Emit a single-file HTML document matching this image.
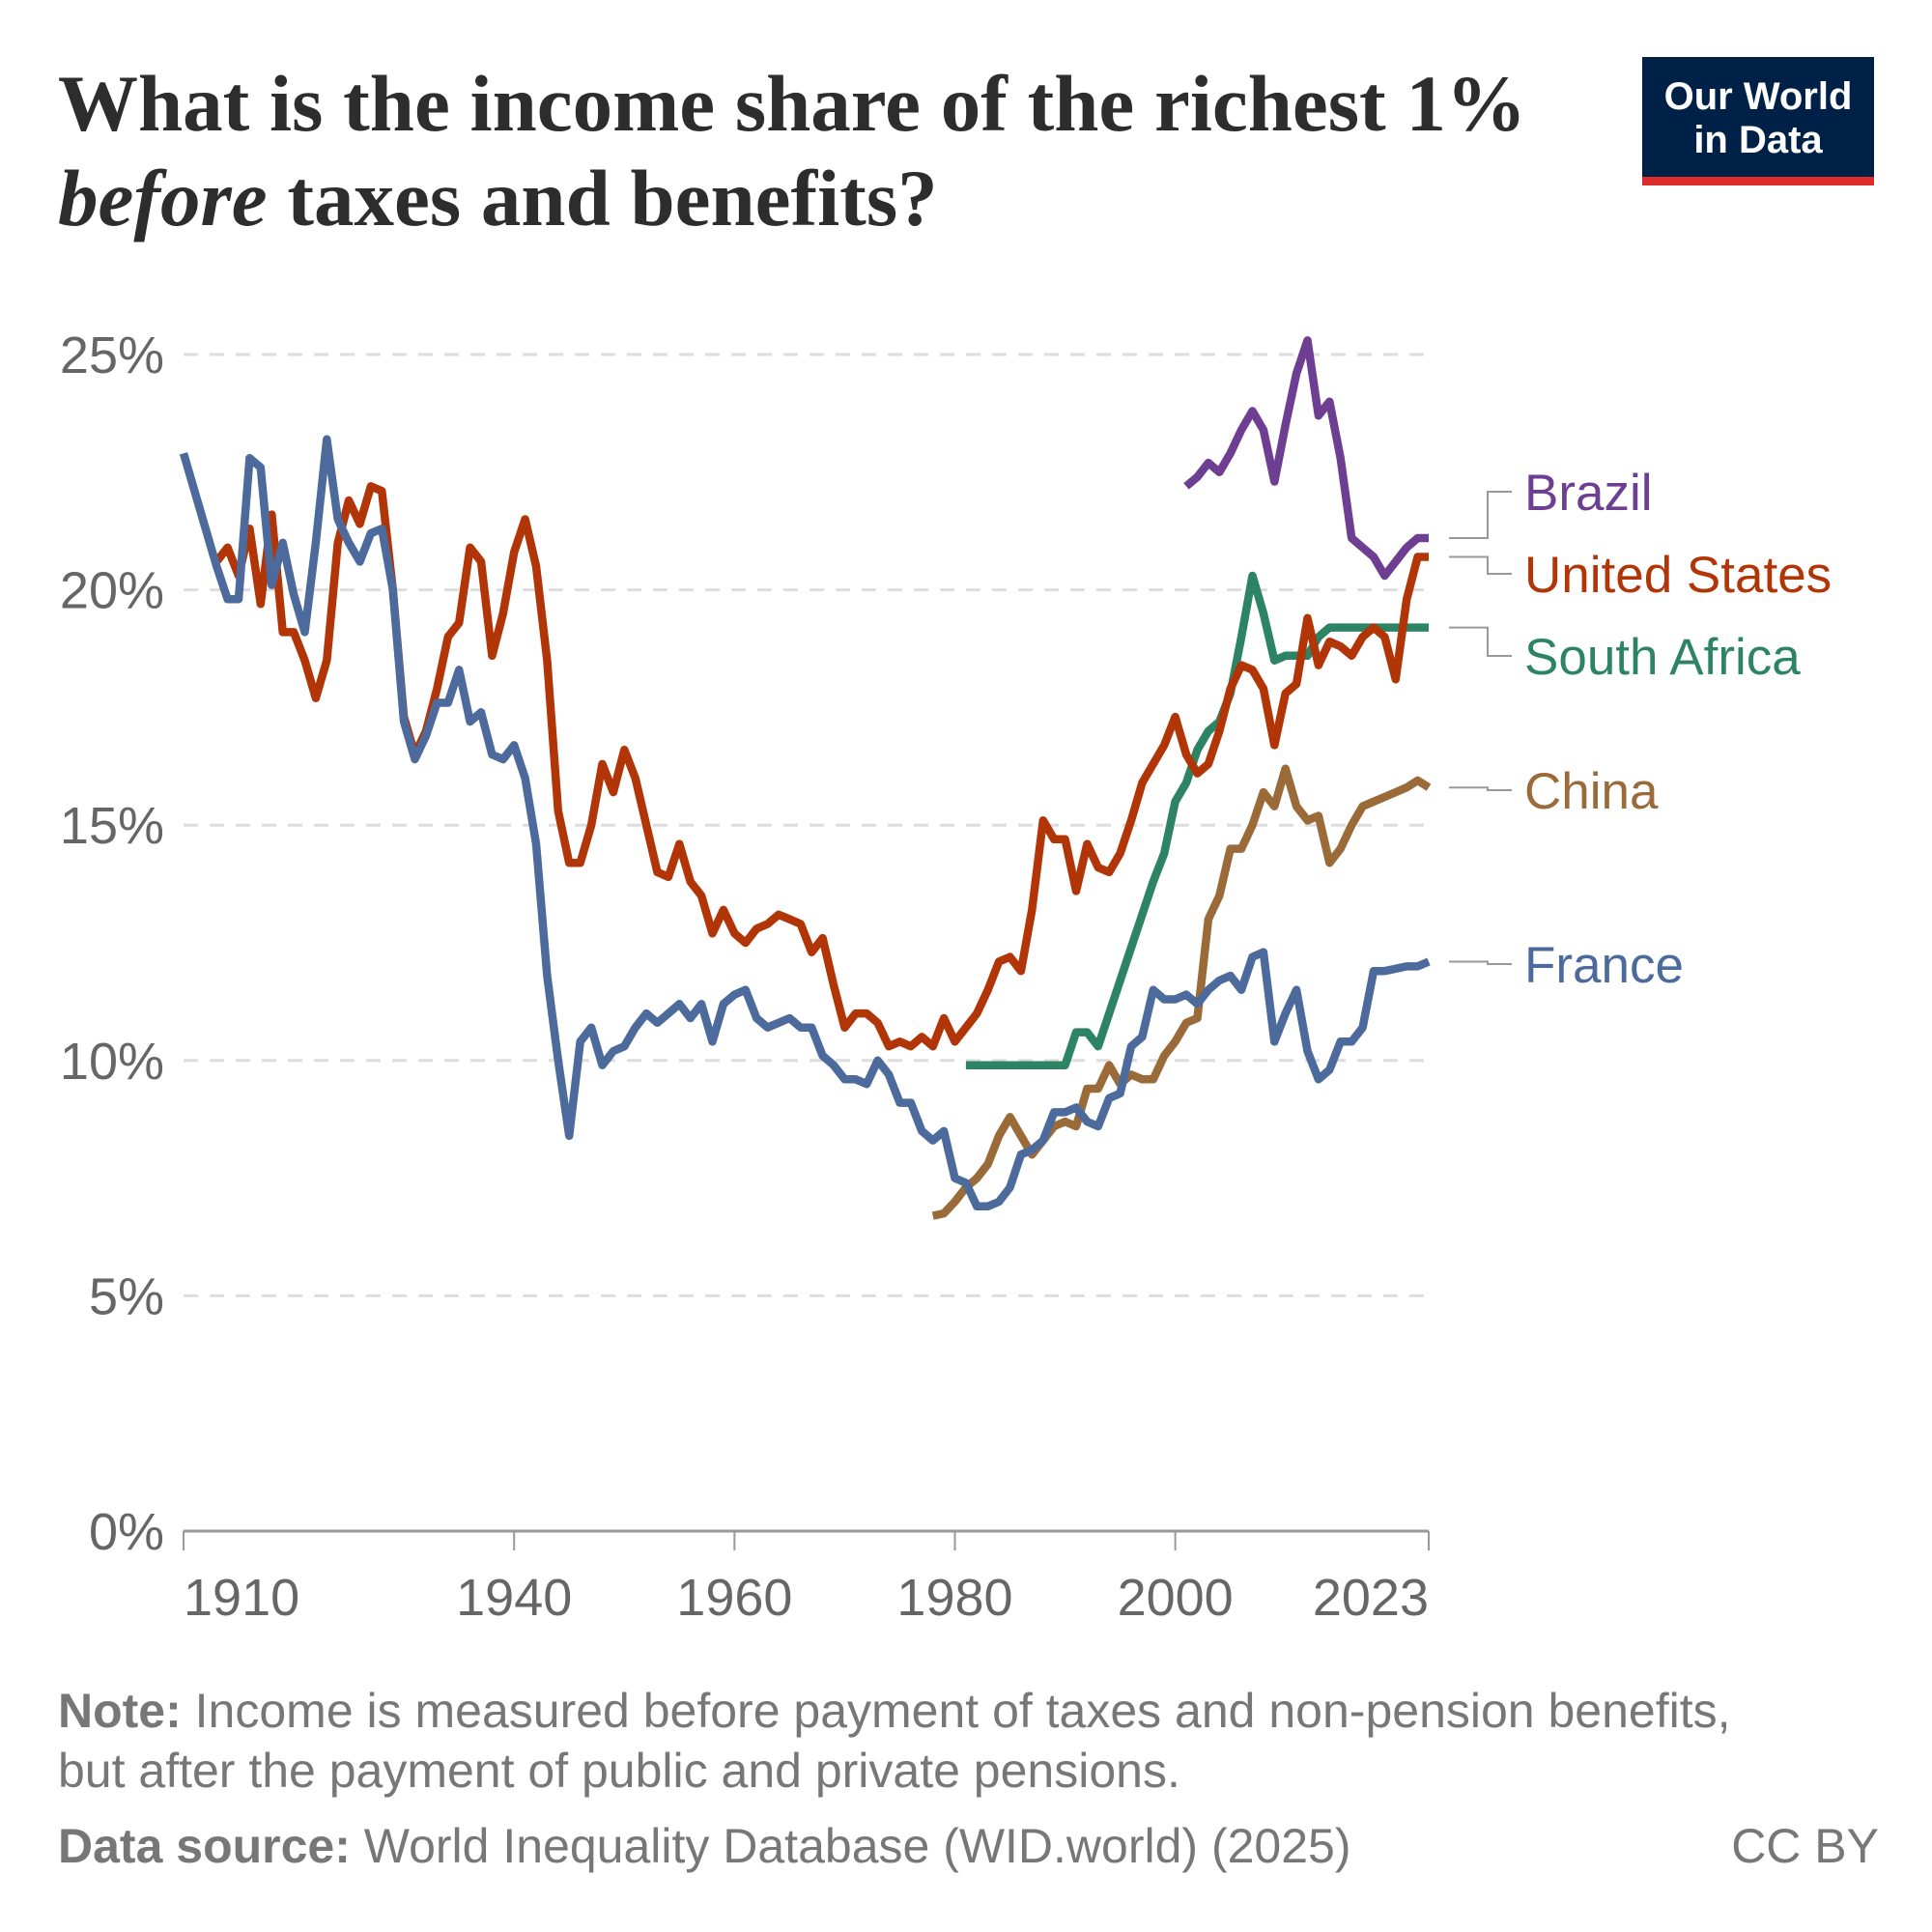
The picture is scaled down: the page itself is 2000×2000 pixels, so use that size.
<!DOCTYPE html>
<html><head><meta charset="utf-8">
<style>
html,body{margin:0;padding:0;background:#fff;}
svg{display:block;}
</style></head>
<body>
<svg id="chart" width="2000" height="2000" viewBox="0 0 2000 2000" xmlns="http://www.w3.org/2000/svg">
<text x="60" y="135" font-family="Liberation Serif, serif" font-weight="bold" font-size="83" fill="#2d2d2d">What is the income share of the richest 1%</text>
<text x="60" y="233" font-family="Liberation Serif, serif" font-weight="bold" font-size="83" fill="#2d2d2d"><tspan font-style="italic">before</tspan> taxes and benefits?</text>
<g>
<rect x="1709" y="59" width="240" height="133" fill="#002147" transform="translate(-9,0)"/>
<rect x="1709" y="183" width="240" height="9" fill="#dc2c2c" transform="translate(-9,0)"/>
<text x="1820" y="113" text-anchor="middle" font-family="Liberation Sans, sans-serif" font-weight="bold" font-size="40" fill="#fff">Our World</text>
<text x="1820" y="158" text-anchor="middle" font-family="Liberation Sans, sans-serif" font-weight="bold" font-size="40" fill="#fff">in Data</text>
</g>
<g id="grid"></g>
<g id="axes"></g>
<g id="lines"></g>
<g id="labels"></g>
<text x="60" y="1788" font-family="Liberation Sans, sans-serif" font-size="50" fill="#777"><tspan font-weight="bold">Note:</tspan> Income is measured before payment of taxes and non-pension benefits,</text>
<text x="60" y="1850" font-family="Liberation Sans, sans-serif" font-size="50" fill="#777">but after the payment of public and private pensions.</text>
<text x="60" y="1928" font-family="Liberation Sans, sans-serif" font-size="50" fill="#777"><tspan font-weight="bold">Data source:</tspan> World Inequality Database (WID.world) (2025)</text>
<text x="1945" y="1928" text-anchor="end" font-family="Liberation Sans, sans-serif" font-size="50" fill="#777">CC BY</text>
</svg>
<script>
const yTicks = [0,5,10,15,20,25];
const yTickLabels = ["0%","5%","10%","15%","20%","25%"];
const xTicks = [1910,1940,1960,1980,2000,2023];
const xTickLabels = ["1910","1940","1960","1980","2000","2023"];
const seriesNames = ["Brazil","United States","South Africa","China","France"];
const franceStart = 1910;
const franceValues = [22.9,22.1,21.3,20.5,19.8,19.8,22.8,22.6,20.1,21.0,19.9,19.1,21.0,23.2,21.5,21.0,20.6,21.2,21.3,20.0,17.2,16.4,16.9,17.6,17.6,18.3,17.2,17.4,16.5,16.4,16.7,16.0,14.6,11.8,10.0,8.4,10.4,10.7,9.9,10.2,10.3,10.7,11.0,10.8,11.0,11.2,10.9,11.2,10.4,11.2,11.4,11.5,10.9,10.7,10.8,10.9,10.7,10.7,10.1,9.9,9.6,9.6,9.5,10.0,9.7,9.1,9.1,8.5,8.3,8.5,7.5,7.4,6.9,6.9,7.0,7.3,8.0,8.1,8.3,8.9,8.9,9.0,8.7,8.6,9.2,9.3,10.3,10.5,11.5,11.3,11.3,11.4,11.2,11.5,11.7,11.8,11.5,12.2,12.3,10.4,11.0,11.5,10.2,9.6,9.8,10.4,10.4,10.7,11.9,11.9,11.95,12.0,12.0,12.1];
const usStart = 1913;
const usValues = [20.6,20.9,20.3,21.3,19.7,21.6,19.1,19.1,18.5,17.7,18.5,21.0,21.9,21.4,22.2,22.1,20.0,17.3,16.5,17.0,17.9,19.0,19.3,20.9,20.6,18.6,19.5,20.8,21.5,20.5,18.5,15.3,14.2,14.2,15.0,16.3,15.7,16.6,16.0,15.0,14.0,13.9,14.6,13.8,13.5,12.7,13.2,12.7,12.5,12.8,12.9,13.1,13.0,12.9,12.3,12.6,11.6,10.7,11.0,11.0,10.8,10.3,10.4,10.3,10.5,10.3,10.9,10.4,10.7,11.0,11.5,12.1,12.2,11.9,13.2,15.1,14.7,14.7,13.6,14.6,14.1,14.0,14.4,15.1,15.9,16.3,16.7,17.3,16.5,16.1,16.3,17.0,17.9,18.4,18.3,17.9,16.7,17.8,18.0,19.4,18.4,18.9,18.8,18.6,19.0,19.2,19.0,18.1,19.8,20.7,20.7];
const saStart = 1981;
const saValues = [9.9,9.9,9.9,9.9,9.9,9.9,9.9,9.9,9.9,9.9,10.6,10.6,10.3,11.0,11.7,12.4,13.1,13.8,14.4,15.5,15.9,16.6,17.0,17.2,17.8,19.0,20.3,19.5,18.5,18.6,18.6,18.6,19.0,19.2,19.2,19.2,19.2,19.2,19.2,19.2,19.2,19.2,19.2];
const chinaStart = 1978;
const chinaValues = [6.7,6.75,7.0,7.3,7.5,7.8,8.4,8.8,8.4,8.0,8.3,8.6,8.7,8.6,9.4,9.4,9.9,9.5,9.7,9.6,9.6,10.1,10.4,10.8,10.9,13.0,13.5,14.5,14.5,15.0,15.7,15.4,16.2,15.4,15.1,15.2,14.2,14.5,15.0,15.4,15.5,15.6,15.7,15.8,15.95,15.8];
const brazilStart = 2001;
const brazilValues = [22.2,22.4,22.7,22.5,22.9,23.4,23.8,23.4,22.3,23.5,24.6,25.3,23.7,24.0,22.8,21.1,20.9,20.7,20.3,20.6,20.9,21.1,21.1];

const X0=190, X1=1479, Y0=1585, Y1=367;
const xMin=1910, xMax=2023, yMax=25;
function xs(yr){return X0+(yr-xMin)/(xMax-xMin)*(X1-X0);}
function ys(v){return Y0-v/yMax*(Y0-Y1);}
const NS="http://www.w3.org/2000/svg";
function mk(tag,parent){const e=document.createElementNS(NS,tag);parent.appendChild(e);return e;}

const grid=document.getElementById('grid');
const axes=document.getElementById('axes');
yTicks.forEach((v,i)=>{
  if(v>0){
    const l=mk('line',grid);
    
    
    l.setAttribute('x1',X0);l.setAttribute('x2',X1);l.setAttribute('y1',ys(v));l.setAttribute('y2',ys(v));
    l.setAttribute('stroke','#dddddd');l.setAttribute('stroke-width','3');l.setAttribute('stroke-dasharray','15,12');
  }
  const t=mk('text',axes);
  
  
  t.setAttribute('x',170);t.setAttribute('y',ys(v)+19);t.setAttribute('text-anchor','end');
  t.setAttribute('font-family','Liberation Sans, sans-serif');t.setAttribute('font-size','54');t.setAttribute('fill','#666');
  t.textContent=yTickLabels[i];
});
const ax=mk('line',axes);


ax.setAttribute('x1',X0);ax.setAttribute('x2',X1);ax.setAttribute('y1',Y0);ax.setAttribute('y2',Y0);
ax.setAttribute('stroke','#999');ax.setAttribute('stroke-width','3');
xTicks.forEach((yr,i)=>{
  const tk=mk('line',axes);
  
  
  tk.setAttribute('x1',xs(yr));tk.setAttribute('x2',xs(yr));tk.setAttribute('y1',Y0);tk.setAttribute('y2',Y0+20);
  tk.setAttribute('stroke','#999');tk.setAttribute('stroke-width','2');
  const t=mk('text',axes);
  
  
  let anchor='middle', x=xs(yr);
  if(i===0){anchor='start';x=X0;}
  if(i===xTicks.length-1){anchor='end';x=X1;}
  t.setAttribute('x',x);t.setAttribute('y',1672);t.setAttribute('text-anchor',anchor);
  t.setAttribute('font-family','Liberation Sans, sans-serif');t.setAttribute('font-size','54');t.setAttribute('fill','#666');
  t.textContent=xTickLabels[i];
});

const lines=document.getElementById('lines');
function drawSeries(start,vals,color,name){
  const p=mk('polyline',lines);
  
  
  p.setAttribute('points',vals.map((v,i)=>xs(start+i).toFixed(1)+','+ys(v).toFixed(1)).join(' '));
  p.setAttribute('fill','none');p.setAttribute('stroke',color);p.setAttribute('stroke-width','8.5');
  p.setAttribute('stroke-linejoin','round');
}
const cols={fr:'#4c6a9c',us:'#b13507',sa:'#2c8465',cn:'#9a6b38',br:'#6d3e91'};
drawSeries(chinaStart,chinaValues,cols.cn,'china-line');
drawSeries(saStart,saValues,cols.sa,'south-africa-line');
drawSeries(usStart,usValues,cols.us,'united-states-line');
drawSeries(franceStart,franceValues,cols.fr,'france-line');
drawSeries(brazilStart,brazilValues,cols.br,'brazil-line');

const labels=document.getElementById('labels');
const ends=[brazilValues[brazilValues.length-1],usValues[usValues.length-1],saValues[saValues.length-1],chinaValues[chinaValues.length-1],franceValues[franceValues.length-1]];
const labelY=[509,594,679,818,998];
const lc=[cols.br,cols.us,cols.sa,cols.cn,cols.fr];
seriesNames.forEach((n,i)=>{
  const ey=ys(ends[i]);
  const pl=mk('polyline',labels);
  
  
  pl.setAttribute('points',`1500,${ey} 1540,${ey} 1540,${labelY[i]} 1565,${labelY[i]}`);
  pl.setAttribute('fill','none');pl.setAttribute('stroke','#999');pl.setAttribute('stroke-width','2');
  const t=mk('text',labels);
  
  
  t.setAttribute('x',1578);t.setAttribute('y',labelY[i]+19);
  t.setAttribute('font-family','Liberation Sans, sans-serif');t.setAttribute('font-size','53');t.setAttribute('fill',lc[i]);
  t.textContent=n;
});
</script>
</body></html>
